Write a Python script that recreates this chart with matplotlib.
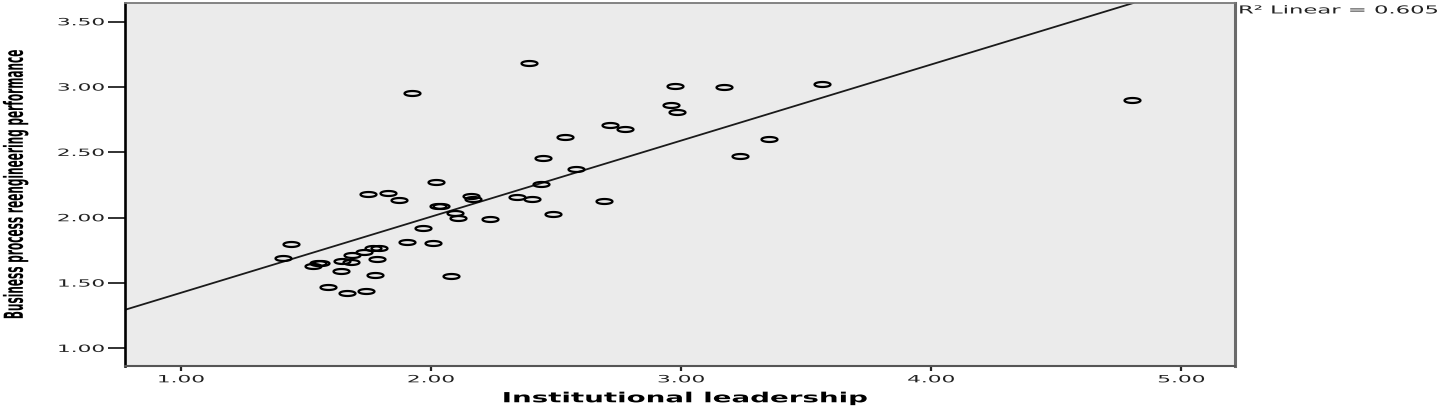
import numpy as np
import matplotlib
matplotlib.use("Agg")
import matplotlib.pyplot as plt
from matplotlib.path import Path
from matplotlib.patheffects import AbstractPathEffect
from matplotlib.transforms import Affine2D

# ---------------- data ----------------
leadership = [1.927, 1.44, 1.41, 1.531, 1.551, 1.560, 1.64, 1.591, 1.665, 1.74,
              1.646, 1.681, 1.685, 1.734, 1.769, 1.795, 1.787, 1.778, 1.748, 1.831,
              1.874, 1.904, 1.968, 2.008, 2.022, 2.031, 2.040, 2.098, 2.111, 2.080,
              2.162, 2.171, 2.237, 2.394, 2.717, 2.777, 2.539, 2.448, 2.581, 2.44,
              2.345, 2.404, 2.692, 2.49, 2.977, 3.173, 3.566, 2.96, 2.986, 3.352,
              3.238, 4.803]
bpr_performance = [2.954, 1.798, 1.694, 1.630, 1.655, 1.655, 1.589, 1.467, 1.421, 1.439,
                   1.668, 1.663, 1.714, 1.735, 1.770, 1.770, 1.686, 1.561, 2.179, 2.187,
                   2.135, 1.811, 1.921, 1.804, 2.271, 2.092, 2.092, 2.033, 2.000, 1.553,
                   2.164, 2.140, 1.990, 3.181, 2.707, 2.679, 2.620, 2.453, 2.371, 2.256,
                   2.156, 2.145, 2.128, 2.026, 3.007, 2.997, 3.020, 2.862, 2.809, 2.603,
                   2.473, 2.900]
fit_intercept = 0.8416
fit_slope = 0.5825
r2_linear = 0.605

x_ticks = [1.0, 2.0, 3.0, 4.0, 5.0]
y_ticks = [1.0, 1.5, 2.0, 2.5, 3.0, 3.5]
x_label = "Institutional leadership"
y_label = "Business process reengineering performance"


# ------------- text stretching effect (SPSS-like distorted fonts) -------------
class Stretch(AbstractPathEffect):
    def __init__(self, sx=1.0, sy=1.0, anchor="center", box=None):
        super().__init__()
        self.sx, self.sy, self.anchor, self.box = sx, sy, anchor, box

    def draw_path(self, renderer, gc, tpath, affine, rgbFace=None):
        verts = affine.transform(tpath.vertices)
        if len(verts) == 0:
            return
        x0, y0 = verts.min(0)
        x1, y1 = verts.max(0)
        sx, sy = self.sx, self.sy
        if self.box is not None:
            dpi_scale = renderer.points_to_pixels(72.0) / 100.0
            sx = self.box[0] * dpi_scale / max(x1 - x0, 1e-6)
            sy = self.box[1] * dpi_scale / max(y1 - y0, 1e-6)
        axp = {"center": (x0 + x1) / 2, "right": x1, "left": x0}[self.anchor]
        ayp = (y0 + y1) / 2
        st = Affine2D().translate(-axp, -ayp).scale(sx, sy).translate(axp, ayp)
        renderer.draw_path(gc, tpath, affine + st, rgbFace)


# ------------- figure -------------
W, H = 1440, 407
fig = plt.figure(figsize=(W / 100, H / 100), dpi=100)
fig.patch.set_facecolor("white")
ax = fig.add_axes([124.5 / W, 1 - 365.7 / H, (1235 - 124.5) / W, (365.7 - 3) / H])
ax.set_facecolor("#ebebeb")

# flat ellipse marker
t = np.linspace(0, 2 * np.pi, 60)
ell = Path(np.column_stack([np.cos(t), 0.31 * np.sin(t)]), closed=True)

ax.plot(leadership, bpr_performance, linestyle="none", marker=ell, markersize=11.5,
        markerfacecolor="none", markeredgecolor="black", markeredgewidth=1.6, zorder=3)

xlim = (0.776, 5.216)
ylim = (0.867, 3.643)
ax.axline((0, fit_intercept), slope=fit_slope, color="#1a1a1a", linewidth=1.3, zorder=2)
ax.set_xlim(*xlim)
ax.set_ylim(*ylim)

ax.set_xticks(x_ticks)
ax.set_yticks(y_ticks)
ax.set_xticklabels([f"{v:.2f}" for v in x_ticks])
ax.set_yticklabels([f"{v:.2f}" for v in y_ticks])

ax.tick_params(axis="y", direction="out", length=12.5, width=1.3, color="#222222",
               pad=2, labelsize=8, labelcolor="#222222")
ax.tick_params(axis="x", direction="out", length=3.5, width=1.6, color="#222222",
               pad=3, labelsize=8, labelcolor="#222222")
for lab in ax.get_yticklabels():
    lab.set_path_effects([Stretch(1.95, 0.9, anchor="right")])
for lab in ax.get_xticklabels():
    lab.set_path_effects([Stretch(1.95, 0.9, anchor="center")])

ax.spines["left"].set_color("black")
ax.spines["left"].set_linewidth(1.9)
ax.spines["bottom"].set_color("#555555")
ax.spines["bottom"].set_linewidth(1.5)
ax.spines["top"].set_color("#7a7a7a")
ax.spines["top"].set_linewidth(1.3)
ax.spines["right"].set_color("#6a6a6a")
ax.spines["right"].set_linewidth(2.2)

# axis titles
ylab = fig.text(15.5 / W, 1 - 184 / H, y_label, rotation=90, ha="center", va="center",
                fontsize=7.5, fontweight="bold", color="black")
ylab.set_path_effects([Stretch(anchor="center", box=(25.6, 269))])

xlab = fig.text(684 / W, 1 - 398 / H, x_label, ha="center", va="center",
                fontsize=12, fontweight="bold", color="black")
xlab.set_path_effects([Stretch(anchor="center", box=(365, 13.5))])

r2 = fig.text(1238 / W, 1 - 10.5 / H, f"R\u00b2 Linear = {r2_linear:.3f}", ha="left",
              va="center", fontsize=8, color="#222222")
r2.set_path_effects([Stretch(anchor="left", box=(199, 8.5))])

fig.savefig("out.png", dpi=100, facecolor="white")
